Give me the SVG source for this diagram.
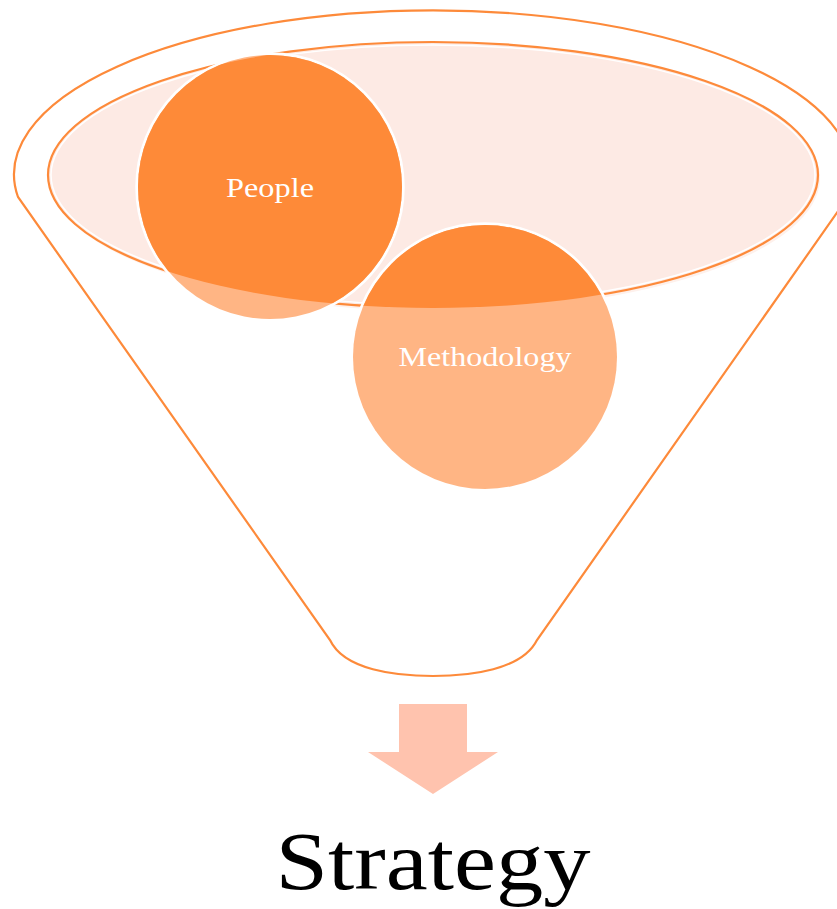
<svg xmlns="http://www.w3.org/2000/svg" width="837" height="909" viewBox="0 0 837 909">
  <style>
    .outline { fill: none; stroke: #FD8A3A; stroke-width: 2.2; }
    .dark { fill: #FE8A38; }
    .light { fill: #FFB584; }
    .ring { fill: none; stroke: #FFFFFF; stroke-width: 3.5; }
    .lbl { font-family: "Liberation Serif", "DejaVu Serif", serif; fill: #FFFFFF; text-anchor: middle; }
  </style>
  <defs>
    <clipPath id="inner">
      <ellipse cx="433" cy="175" rx="385" ry="133"/>
    </clipPath>
  </defs>
  <rect width="837" height="909" fill="#FFFFFF"/>
  <g id="funnel">
    <path class="outline" d="M 18 197 A 419 164 0 1 1 848 197 L 537 640 C 522 670 470 676 433 676 C 396 676 344 670 330 640 Z"/>
    <ellipse cx="435" cy="178" rx="385" ry="133" fill="#FEF1EC"/>
    <ellipse cx="433" cy="175" rx="385" ry="133" fill="#FDEAE4"/>
    <ellipse cx="433" cy="175" rx="382" ry="130" fill="none" stroke="#FFFFFF" stroke-width="1.5"/>
    <ellipse class="outline" cx="433" cy="175" rx="385" ry="133"/>
  </g>
  <g id="people">
    <circle class="ring" cx="270" cy="187" r="133"/>
    <circle class="light" cx="270" cy="187" r="132"/>
    <circle class="dark" cx="270" cy="187" r="132" clip-path="url(#inner)"/>
    <text class="lbl" x="270" y="197" font-size="28" textLength="88" lengthAdjust="spacingAndGlyphs">People</text>
  </g>
  <g id="methodology">
    <circle class="ring" cx="485" cy="357" r="133"/>
    <circle class="light" cx="485" cy="357" r="132"/>
    <circle class="dark" cx="485" cy="357" r="132" clip-path="url(#inner)"/>
    <text class="lbl" x="485" y="366" font-size="28" textLength="173" lengthAdjust="spacingAndGlyphs">Methodology</text>
  </g>
  <g id="connectors">
    <polygon points="399,704 467,704 467,752 498,752 433,794 368,752 399,752" fill="#FFC3AE"/>
  </g>
  <g id="strategy">
    <text x="433" y="889" font-family="'Liberation Serif', 'DejaVu Serif', serif" font-size="82" fill="#000000" text-anchor="middle" textLength="315" lengthAdjust="spacingAndGlyphs">Strategy</text>
  </g>
</svg>
